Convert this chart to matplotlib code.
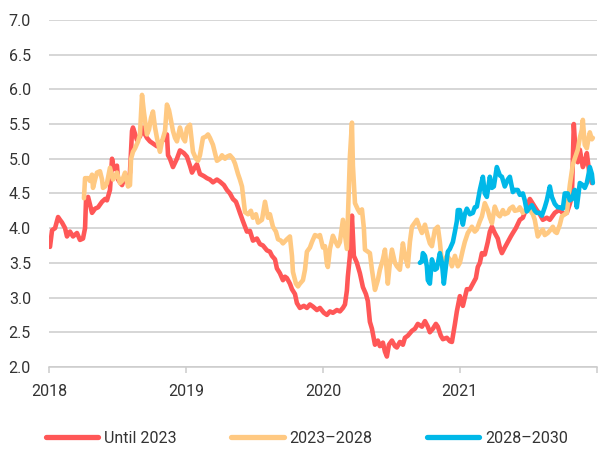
import matplotlib
matplotlib.use("Agg")
import matplotlib.pyplot as plt
import numpy as np

# ---- data (time as years after 1 Jan 2018, yield in %) ----
until_2023_t = [
    0.000, 0.007, 0.022, 0.044, 0.066, 0.080, 0.095, 0.117, 0.131, 0.153, 0.175, 0.204,
    0.226, 0.248, 0.263, 0.270, 0.285, 0.314, 0.336, 0.358, 0.387, 0.409, 0.423, 0.445,
    0.460, 0.474, 0.496, 0.504, 0.533, 0.555, 0.577, 0.591, 0.606, 0.613, 0.642, 0.664,
    0.686, 0.701, 0.715, 0.737, 0.759, 0.788, 0.810, 0.839, 0.861, 0.869, 0.883, 0.905,
    0.934, 0.956, 0.985, 1.007, 1.029, 1.044, 1.066, 1.080, 1.102, 1.131, 1.153, 1.175,
    1.197, 1.226, 1.248, 1.277, 1.299, 1.321, 1.343, 1.365, 1.380, 1.394, 1.416, 1.445,
    1.467, 1.489, 1.518, 1.540, 1.562, 1.591, 1.613, 1.628, 1.650, 1.664, 1.686, 1.708,
    1.723, 1.737, 1.759, 1.774, 1.796, 1.810, 1.832, 1.861, 1.883, 1.905, 1.927, 1.956,
    1.978, 2.007, 2.029, 2.051, 2.073, 2.102, 2.124, 2.146, 2.161, 2.175, 2.182, 2.197,
    2.212, 2.226, 2.248, 2.270, 2.292, 2.314, 2.328, 2.343, 2.358, 2.380, 2.401, 2.416,
    2.438, 2.453, 2.467, 2.482, 2.504, 2.526, 2.540, 2.562, 2.584, 2.599, 2.620, 2.650,
    2.672, 2.693, 2.723, 2.745, 2.766, 2.781, 2.803, 2.825, 2.839, 2.861, 2.876, 2.905,
    2.927, 2.942, 2.964, 2.978, 3.000, 3.022, 3.051, 3.073, 3.095, 3.117, 3.131, 3.146,
    3.161, 3.182, 3.204, 3.219, 3.234, 3.255, 3.277, 3.292, 3.307, 3.328, 3.350, 3.372,
    3.387, 3.409, 3.438, 3.460, 3.489, 3.511, 3.533, 3.562, 3.584, 3.606, 3.635, 3.657,
    3.679, 3.693, 3.715, 3.730, 3.759, 3.781, 3.803, 3.818, 3.832, 3.847, 3.861, 3.876,
    3.898, 3.912, 3.927, 3.949, 3.964,
]
until_2023 = [
    3.75, 3.73, 3.97, 4.00, 4.16, 4.12, 4.08, 4.00, 3.88, 3.95, 3.88, 3.93,
    3.83, 3.85, 4.00, 4.40, 4.45, 4.22, 4.28, 4.30, 4.38, 4.42, 4.40, 4.55,
    5.00, 4.85, 4.90, 4.70, 4.62, 4.75, 4.70, 4.80, 5.40, 5.45, 5.27, 5.32,
    5.45, 5.35, 5.30, 5.25, 5.22, 5.18, 5.22, 5.28, 5.35, 5.05, 5.00, 4.88,
    5.00, 5.12, 5.08, 5.03, 4.90, 4.80, 4.88, 4.92, 4.78, 4.75, 4.72, 4.70,
    4.66, 4.70, 4.67, 4.62, 4.55, 4.50, 4.42, 4.38, 4.30, 4.22, 4.10, 3.95,
    3.96, 3.82, 3.85, 3.77, 3.75, 3.68, 3.66, 3.60, 3.55, 3.42, 3.35, 3.25,
    3.30, 3.28, 3.20, 3.12, 3.05, 2.92, 2.85, 2.88, 2.85, 2.90, 2.87, 2.82,
    2.85, 2.78, 2.75, 2.80, 2.78, 2.82, 2.80, 2.85, 2.90, 3.10, 3.30, 3.60,
    4.18, 3.60, 3.50, 3.35, 3.15, 3.05, 2.95, 2.65, 2.55, 2.32, 2.38, 2.30,
    2.35, 2.22, 2.15, 2.32, 2.38, 2.30, 2.28, 2.36, 2.32, 2.42, 2.45, 2.52,
    2.55, 2.62, 2.58, 2.66, 2.58, 2.50, 2.55, 2.62, 2.58, 2.45, 2.40, 2.42,
    2.37, 2.36, 2.62, 2.80, 3.02, 2.88, 3.12, 3.12, 3.20, 3.28, 3.44, 3.50,
    3.64, 3.62, 3.80, 3.95, 4.02, 3.93, 3.85, 3.72, 3.64, 3.72, 3.80, 3.88,
    3.93, 4.00, 4.12, 4.15, 4.30, 4.42, 4.35, 4.26, 4.20, 4.12, 4.15, 4.12,
    4.18, 4.22, 4.25, 4.26, 4.20, 4.22, 4.35, 4.45, 5.50, 5.03, 4.95, 5.13,
    4.88, 4.95, 5.08, 4.74, 4.65,
]

y2023_2028_t = [
    0.255, 0.263, 0.285, 0.299, 0.314, 0.321, 0.336, 0.350, 0.372, 0.387, 0.394, 0.409,
    0.423, 0.445, 0.467, 0.482, 0.496, 0.518, 0.533, 0.555, 0.577, 0.591, 0.599, 0.613,
    0.628, 0.650, 0.664, 0.679, 0.693, 0.708, 0.715, 0.730, 0.745, 0.759, 0.774, 0.788,
    0.810, 0.825, 0.847, 0.861, 0.876, 0.883, 0.905, 0.920, 0.934, 0.956, 0.978, 0.993,
    1.007, 1.029, 1.051, 1.073, 1.088, 1.102, 1.124, 1.146, 1.161, 1.175, 1.197, 1.226,
    1.248, 1.263, 1.285, 1.299, 1.321, 1.343, 1.358, 1.380, 1.394, 1.409, 1.431, 1.453,
    1.474, 1.489, 1.511, 1.526, 1.555, 1.577, 1.599, 1.613, 1.635, 1.657, 1.672, 1.693,
    1.708, 1.737, 1.759, 1.774, 1.781, 1.803, 1.818, 1.832, 1.854, 1.869, 1.883, 1.905,
    1.920, 1.942, 1.964, 1.978, 2.000, 2.015, 2.029, 2.036, 2.051, 2.073, 2.088, 2.109,
    2.124, 2.146, 2.161, 2.175, 2.190, 2.197, 2.212, 2.219, 2.234, 2.255, 2.270, 2.285,
    2.299, 2.307, 2.328, 2.343, 2.358, 2.380, 2.401, 2.416, 2.438, 2.453, 2.474, 2.489,
    2.504, 2.526, 2.540, 2.562, 2.584, 2.599, 2.620, 2.635, 2.650, 2.672, 2.686, 2.708,
    2.723, 2.745, 2.766, 2.781, 2.796, 2.818, 2.839, 2.854, 2.869, 2.891, 2.905, 2.927,
    2.942, 2.964, 2.985, 3.000, 3.022, 3.036, 3.058, 3.088, 3.109, 3.124, 3.146, 3.161,
    3.182, 3.204, 3.219, 3.234, 3.255, 3.277, 3.292, 3.314, 3.328, 3.350, 3.365, 3.387,
    3.401, 3.423, 3.438, 3.460, 3.489, 3.511, 3.533, 3.547, 3.562, 3.569, 3.591, 3.606,
    3.620, 3.642, 3.664, 3.679, 3.693, 3.708, 3.730, 3.745, 3.766, 3.781, 3.796, 3.803,
    3.825, 3.839, 3.861, 3.876, 3.891, 3.898, 3.912, 3.927, 3.942, 3.949, 3.964, 3.971,
]
y2023_2028 = [
    4.43, 4.72, 4.72, 4.68, 4.77, 4.58, 4.70, 4.80, 4.82, 4.70, 4.58, 4.60,
    4.65, 4.87, 4.70, 4.75, 4.80, 4.65, 4.68, 4.80, 4.60, 4.62, 5.00, 5.10,
    5.15, 5.25, 5.35, 5.92, 5.67, 5.45, 5.35, 5.42, 5.59, 5.68, 5.45, 5.30,
    5.10, 5.25, 5.40, 5.78, 5.70, 5.63, 5.40, 5.30, 5.25, 5.45, 5.30, 5.25,
    5.44, 5.49, 5.10, 5.00, 4.97, 5.05, 5.30, 5.32, 5.35, 5.30, 5.20, 4.97,
    5.00, 5.05, 5.00, 5.03, 5.05, 5.00, 4.93, 4.78, 4.70, 4.60, 4.23, 4.20,
    4.25, 4.15, 4.20, 4.08, 4.12, 4.38, 4.15, 4.20, 4.02, 3.95, 3.84, 3.82,
    3.78, 3.84, 3.88, 3.60, 3.37, 3.20, 3.16, 3.20, 3.25, 3.40, 3.66, 3.72,
    3.80, 3.90, 3.88, 3.90, 3.72, 3.74, 3.48, 3.44, 3.70, 3.89, 3.82, 3.74,
    3.80, 4.12, 3.90, 3.70, 4.60, 5.03, 5.52, 4.90, 4.36, 4.27, 4.22, 4.27,
    4.00, 3.69, 3.66, 3.64, 3.40, 3.11, 3.25, 3.40, 3.55, 3.69, 3.20, 3.50,
    3.69, 3.50, 3.45, 3.40, 3.78, 3.60, 3.45, 3.80, 4.02, 4.08, 4.12, 4.00,
    3.93, 4.05, 3.88, 3.78, 3.74, 3.98, 4.02, 3.80, 3.50, 3.55, 3.60, 3.55,
    3.45, 3.60, 3.45, 3.50, 3.69, 3.80, 3.93, 4.02, 3.95, 3.98, 4.10, 4.17,
    4.36, 4.26, 4.15, 4.07, 4.31, 4.20, 4.17, 4.26, 4.20, 4.22, 4.28, 4.31,
    4.25, 4.26, 4.30, 4.22, 4.28, 4.26, 4.20, 4.12, 3.95, 3.88, 3.95, 3.98,
    3.90, 3.93, 3.98, 4.02, 3.95, 3.93, 4.05, 4.17, 4.20, 4.22, 4.50, 4.62,
    4.92, 5.00, 5.13, 5.30, 5.42, 5.56, 5.20, 5.15, 5.32, 5.38, 5.28, 5.30,
]

y2028_2030_t = [
    2.708, 2.723, 2.730, 2.745, 2.759, 2.766, 2.781, 2.796, 2.803, 2.818, 2.832, 2.854,
    2.869, 2.883, 2.898, 2.912, 2.927, 2.949, 2.964, 2.978, 2.985, 3.000, 3.022, 3.036,
    3.051, 3.073, 3.095, 3.109, 3.124, 3.146, 3.168, 3.182, 3.197, 3.219, 3.234, 3.248,
    3.270, 3.292, 3.307, 3.328, 3.350, 3.365, 3.387, 3.401, 3.423, 3.438, 3.460, 3.474,
    3.489, 3.511, 3.526, 3.547, 3.562, 3.584, 3.599, 3.620, 3.635, 3.657, 3.672, 3.693,
    3.715, 3.730, 3.752, 3.766, 3.788, 3.803, 3.818, 3.839, 3.854, 3.876, 3.898, 3.912,
    3.927, 3.942, 3.949, 3.964, 3.971,
]
y2028_2030 = [
    3.50, 3.52, 3.64, 3.60, 3.45, 3.25, 3.20, 3.55, 3.50, 3.40, 3.42, 3.64,
    3.50, 3.20, 3.45, 3.66, 3.70, 3.80, 3.95, 4.10, 4.26, 4.26, 4.05, 4.20,
    4.28, 4.20, 4.22, 4.30, 4.31, 4.55, 4.74, 4.50, 4.45, 4.74, 4.58, 4.60,
    4.88, 4.76, 4.74, 4.60, 4.70, 4.74, 4.52, 4.55, 4.55, 4.48, 4.50, 4.40,
    4.24, 4.30, 4.33, 4.25, 4.22, 4.22, 4.18, 4.30, 4.40, 4.60, 4.45, 4.35,
    4.30, 4.30, 4.28, 4.50, 4.50, 4.40, 4.42, 4.55, 4.30, 4.65, 4.62, 4.58,
    4.65, 4.80, 4.88, 4.78, 4.65,
]

series_labels = ["Until 2023", "2023\u20132028", "2028\u20132030"]
series_colors = ["#FF5757", "#FFC982", "#00B8E8"]
year_ticks = [2018, 2019, 2020, 2021, 2022]
year_labels = ["2018", "2019", "2020", "2021", ""]
y_ticks = [2.0, 2.5, 3.0, 3.5, 4.0, 4.5, 5.0, 5.5, 6.0, 6.5, 7.0]

plt.rcParams['font.family'] = ['Roboto', 'DejaVu Sans']

fig = plt.figure(figsize=(5.98, 4.53), dpi=100)
ax = fig.add_axes([0.082, 0.19, 0.916, 0.766])

series = [
    (until_2023_t, until_2023),
    (y2023_2028_t, y2023_2028),
    (y2028_2030_t, y2028_2030),
]
for (t, v), lab, col in zip(series, series_labels, series_colors):
    ax.plot(2018 + np.array(t), v, color=col, lw=3.3, label=lab,
            solid_joinstyle='round', solid_capstyle='round')

ax.set_xlim(2018, 2022)
ax.set_ylim(2.0, 7.0)
ax.set_yticks(y_ticks)
ax.set_yticklabels([f"{y:.1f}" for y in y_ticks])
ax.set_xticks(year_ticks)
ax.set_xticklabels(year_labels)

ax.yaxis.grid(True, color="#cccccc", lw=1.1)
ax.set_axisbelow(True)
for s in ['top', 'right', 'left']:
    ax.spines[s].set_visible(False)
ax.spines['bottom'].set_color("#cccccc")
ax.spines['bottom'].set_linewidth(1.1)

ax.tick_params(axis='y', length=0, pad=13, labelsize=11.5, labelcolor="#333333")
ax.tick_params(axis='x', length=4.5, width=1.1, color="#cccccc", pad=8,
               labelsize=11.5, labelcolor="#333333")

fig.legend(loc='center', bbox_to_anchor=(0.513, 0.033), ncol=3, frameon=False,
           fontsize=11.5, handlelength=3.3, handletextpad=0.35, columnspacing=3.4,
           labelcolor="#333333")
for h in fig.legends[0].get_lines():
    h.set_linewidth(3.8)

fig.savefig("out.png", dpi=100, facecolor='white')
